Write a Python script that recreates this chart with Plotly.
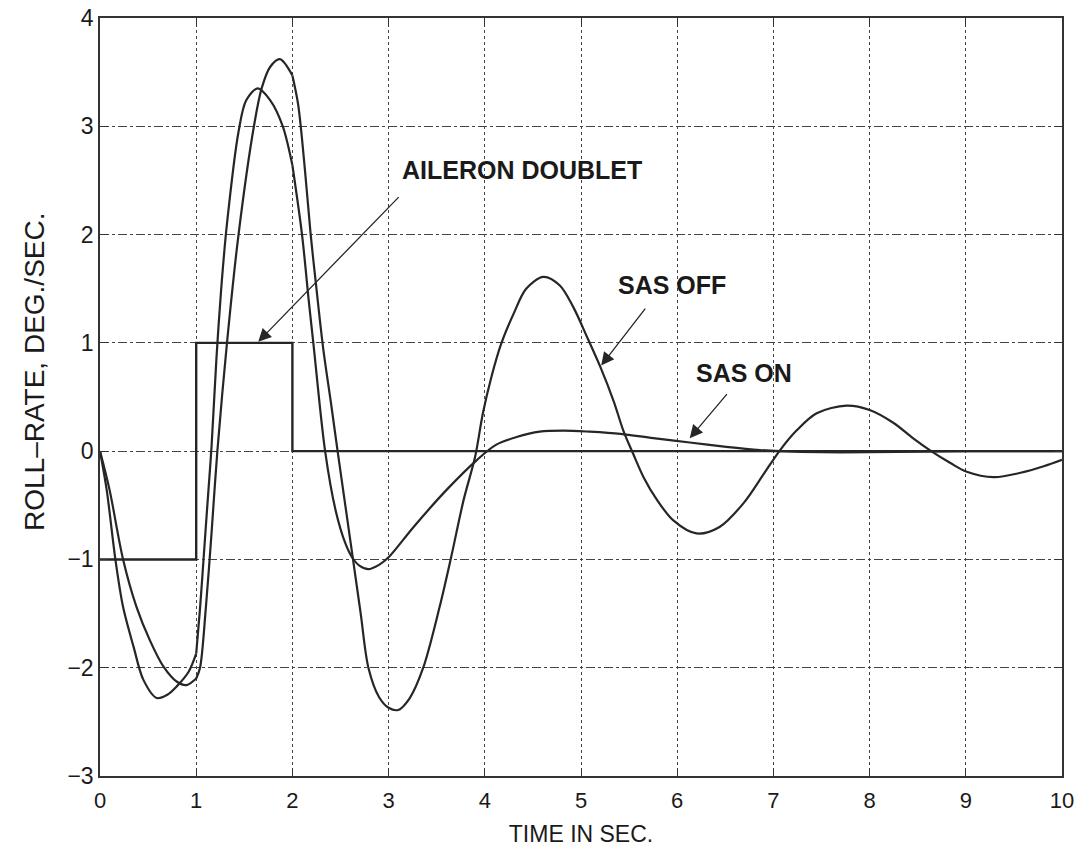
import plotly.graph_objects as go

# Aileron doublet input
ail_t = [0, 1, 1, 2, 2, 10]
ail_v = [-1, -1, 1, 1, 0, 0]

# SAS ON response (kinks at t = 1 and t = 2 where the input switches)
on_t = [0, 0.07, 0.16, 0.24, 0.35, 0.45, 0.59, 0.70, 0.80, 0.92, 1.0,
        1.04, 1.08, 1.12, 1.16, 1.21, 1.26, 1.32, 1.44, 1.52, 1.64, 1.77, 1.90, 2.0,
        2.10, 2.17, 2.22, 2.34, 2.45, 2.55, 2.62, 2.70, 2.79, 2.90, 3.0, 3.26, 3.60, 3.92,
        4.12, 4.33, 4.57, 4.82, 5.09, 5.41, 5.75, 6.13, 6.51, 6.86, 7.07, 7.5, 8.0, 9.0, 10.0]
on_v = [0, -0.36, -1.0, -1.44, -1.81, -2.11, -2.28, -2.25, -2.17, -2.04, -1.87,
        -1.45, -0.95, -0.45, 0.05, 0.85, 1.5, 2.1, 2.95, 3.24, 3.35, 3.24, 3.0, 2.64,
        2.0, 1.39, 0.98, 0.0, -0.55, -0.85, -0.98, -1.06, -1.09, -1.05, -0.98, -0.70, -0.36, -0.08,
        0.06, 0.13, 0.18, 0.19, 0.18, 0.16, 0.12, 0.08, 0.04, 0.01, 0.0, -0.01, -0.01, 0.0, 0.0]

# SAS OFF response
off_t = [0, 0.10, 0.24, 0.38, 0.52, 0.66, 0.80, 0.90, 1.0,
         1.04, 1.10, 1.16, 1.22, 1.32, 1.44, 1.60, 1.68, 1.77, 1.87, 2.0,
         2.06, 2.13, 2.19, 2.25, 2.32, 2.40, 2.47, 2.55, 2.63, 2.71, 2.79, 2.90, 3.0, 3.10, 3.22,
         3.36, 3.53, 3.65, 3.78, 3.90, 3.98, 4.07, 4.17, 4.30, 4.43, 4.61, 4.78, 4.92, 5.06,
         5.20, 5.34, 5.44, 5.54, 5.65, 5.79, 5.96, 6.20, 6.44, 6.69, 6.90, 7.07, 7.24, 7.45,
         7.76, 8.0, 8.25, 8.45, 8.64, 8.84, 9.01, 9.29, 9.57, 9.81, 10.0]
off_v = [0, -0.36, -1.0, -1.44, -1.75, -1.99, -2.13, -2.16, -2.10,
         -2.0, -1.45, -0.75, 0.0, 1.0, 2.0, 3.0, 3.35, 3.55, 3.62, 3.47,
         3.2, 2.6, 2.0, 1.5, 0.95, 0.45, 0.0, -0.5, -1.0, -1.5, -2.0, -2.27, -2.37, -2.39, -2.28,
         -2.0, -1.44, -0.98, -0.45, -0.05, 0.35, 0.69, 0.99, 1.27, 1.50, 1.61, 1.53, 1.33, 1.06,
         0.78, 0.46, 0.19, -0.02, -0.24, -0.45, -0.64, -0.76, -0.70, -0.48, -0.21, 0.01, 0.19, 0.35,
         0.42, 0.38, 0.26, 0.12, 0.0, -0.11, -0.19, -0.24, -0.20, -0.14, -0.08]

x_ticks = list(range(0, 11))
y_ticks = list(range(-3, 5))
y_labels = ["\u22123", "\u22122", "\u22121", "0", "1", "2", "3", "4"]
switch_times = [1, 2]  # input switching instants (curves have corners there)

line_col = "#262626"
fig = go.Figure()
fig.add_trace(go.Scatter(x=ail_t, y=ail_v, mode="lines",
                         line=dict(color=line_col, width=2.4), showlegend=False))


def add_piecewise(ts, vs):
    edges = [0] + switch_times + [10]
    for a, b in zip(edges[:-1], edges[1:]):
        seg = [(t, v) for t, v in zip(ts, vs) if a <= t <= b]
        fig.add_trace(go.Scatter(x=[p[0] for p in seg], y=[p[1] for p in seg], mode="lines",
                                 line=dict(color=line_col, width=2.2, shape="spline",
                                           smoothing=0.9),
                                 showlegend=False, hoverinfo="skip"))


add_piecewise(on_t, on_v)
add_piecewise(off_t, off_v)

arrows = [
    ("AILERON DOUBLET", 1.645, 1.01, 3.12, 2.36, 4.39, 2.60),
    ("SAS OFF", 5.21, 0.79, 5.68, 1.33, 5.95, 1.53),
    ("SAS ON", 6.13, 0.12, 6.53, 0.54, 6.69, 0.72),
]
for txt, hx, hy, tx, ty, lx, ly in arrows:
    fig.add_annotation(x=hx, y=hy, ax=tx, ay=ty, xref="x", yref="y", axref="x", ayref="y",
                       text="", showarrow=True, arrowhead=2, arrowsize=2.0, arrowwidth=1.3,
                       arrowcolor=line_col)
    fig.add_annotation(x=lx, y=ly, xref="x", yref="y", text="<b>" + txt + "</b>",
                       showarrow=False, font=dict(family="Liberation Sans, Arial", size=25,
                                                  color="#1a1a1a"))

# y-axis title (placed as rotated text, slightly above centre as in the original)
fig.add_annotation(x=-0.0676, y=0.533, xref="paper", yref="paper",
                   text="ROLL\u2013RATE, DEG./SEC.", textangle=-90, showarrow=False,
                   xanchor="center", yanchor="middle",
                   font=dict(family="Liberation Sans, Arial", size=28, color="#1a1a1a"))

fig.update_layout(
    width=1079, height=854,
    margin=dict(l=100, r=17, t=18, b=78, autoexpand=False),
    plot_bgcolor="white", paper_bgcolor="white",
    font=dict(family="Liberation Sans, Arial", color="#1a1a1a"),
)
fig.update_xaxes(range=[0, 10], tickvals=x_ticks, ticktext=[str(v) for v in x_ticks],
                 showline=True, linecolor="#333", linewidth=1.5, mirror="ticks",
                 ticks="inside", ticklen=8, tickcolor="#333",
                 showgrid=True, gridcolor="#444", gridwidth=1, griddash="dot",
                 zeroline=False, automargin=False, ticklabelstandoff=4,
                 tickfont=dict(family="Liberation Sans, Arial", size=22),
                 title=dict(text="TIME IN SEC.", font=dict(family="Liberation Sans, Arial", size=23),
                            standoff=14))
fig.update_yaxes(range=[-3, 4], tickvals=y_ticks, ticktext=y_labels,
                 showline=True, linecolor="#333", linewidth=1.5, mirror="ticks",
                 ticks="inside", ticklen=8, tickcolor="#333",
                 showgrid=True, gridcolor="#444", gridwidth=1, griddash="dashdot",
                 zeroline=False, automargin=False,
                 tickfont=dict(family="Liberation Sans, Arial", size=23))

# remove the default 8px page margin so the figure sits at the window's top-left corner
fig.write_html("out.html", config={"displayModeBar": False},
               post_script="document.body.style.margin='0';")
